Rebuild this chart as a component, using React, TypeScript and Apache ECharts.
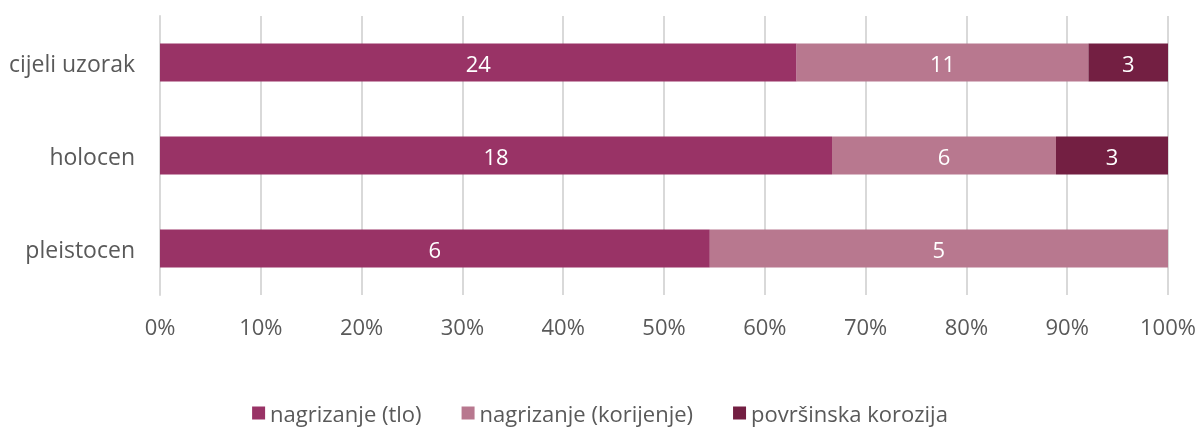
import React, { useEffect, useRef } from "react";
import * as echarts from "echarts";

const categories = ["cijeli uzorak", "holocen", "pleistocen"];
const seriesNames = ["nagrizanje (tlo)", "nagrizanje (korijenje)", "površinska korozija"];
const tlo = [24, 18, 6];
const korijenje = [11, 6, 5];
const korozija = [3, 3, 0];
const colors = ["#993366", "#b8788f", "#731f42"];
const xTicks = [0, 10, 20, 30, 40, 50, 60, 70, 80, 90, 100];

export default function App() {
  const ref = useRef<HTMLDivElement>(null);
  useEffect(() => {
    if (!ref.current) return;
    const chart = echarts.init(ref.current, null, { renderer: "svg" });
    const raw = [tlo, korijenje, korozija];
    const totals = categories.map((_, i) => raw.reduce((s, arr) => s + arr[i], 0));
    const font = "'Open Sans', sans-serif";
    chart.setOption({
      animation: false,
      textStyle: { fontFamily: font },
      grid: { left: 160, right: 32, top: 16, height: 279, containLabel: false },
      legend: {
        top: 400,
        left: "center",
        padding: 0,
        icon: "rect",
        itemWidth: 13,
        itemHeight: 13,
        itemGap: 40,
        textStyle: { fontSize: 22, lineHeight: 26, color: "#595959", fontFamily: font },
        data: seriesNames,
      },
      xAxis: {
        type: "value",
        min: xTicks[0],
        max: xTicks[xTicks.length - 1],
        interval: 10,
        axisLine: { show: false },
        axisTick: { show: false },
        axisLabel: {
          formatter: (v: number) => `${v}%`,
          fontSize: 22,
          color: "#595959",
          margin: 20,
          fontFamily: font,
        },
        splitLine: { show: true, lineStyle: { color: "#d9d9d9", width: 2 } },
      },
      yAxis: {
        type: "category",
        data: categories,
        inverse: true,
        axisLine: { show: true, lineStyle: { color: "#d9d9d9", width: 2 } },
        axisTick: { show: false },
        axisLabel: { fontSize: 23, color: "#595959", margin: 25, fontFamily: font },
      },
      series: seriesNames.map((name, si) => ({
        name,
        type: "bar",
        stack: "total",
        barWidth: 38,
        itemStyle: { color: colors[si] },
        label: {
          show: true,
          position: "inside",
          color: "#ffffff",
          fontSize: 22,
          fontFamily: font,
          formatter: (p: any) => {
            const v = raw[si][p.dataIndex];
            return v ? String(v) : "";
          },
        },
        data: raw[si].map((v, i) => (v / totals[i]) * 100),
      })),
    });
    return () => chart.dispose();
  }, []);
  return (
    <div
      ref={ref}
      style={{ position: "fixed", left: 0, top: 0, width: 1200, height: 428 }}
    />
  );
}
